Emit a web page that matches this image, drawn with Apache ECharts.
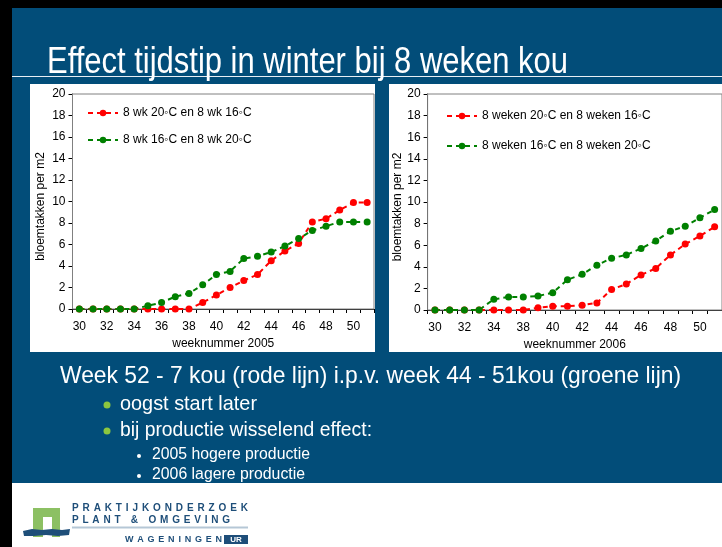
<!DOCTYPE html>
<html><head><meta charset="utf-8">
<script src="https://cdn.jsdelivr.net/npm/echarts@6/dist/echarts.min.js"></script>
<style>html,body{margin:0;padding:0;background:#fff}#c{width:722px;height:547px}</style>
</head><body><div id="c"></div>
<script>
// ---- data ----
const weeks2005 = ['30','31','32','33','34','35','36','37','38','39','40','41','42','43','44','45','46','47','48','49','50','51'];
const red2005   = [0,0,0,0,0,0,0,0,0,0.6,1.3,2.0,2.65,3.2,4.5,5.4,6.1,8.1,8.4,9.2,9.9,9.9];
const green2005 = [0,0,0,0,0,0.3,0.6,1.15,1.45,2.25,3.2,3.5,4.7,4.9,5.3,5.85,6.55,7.3,7.7,8.1,8.1,8.1];
const weeks2006 = ['30','31','32','33','34','36','38','39','40','41','42','43','44','45','46','47','48','49','50','51'];
const red2006   = [0,0,0,0,0,0,0,0.2,0.35,0.35,0.45,0.65,1.9,2.4,3.25,3.85,5.1,6.1,6.85,7.7];
const green2006 = [0,0,0,0,1.0,1.2,1.2,1.3,1.6,2.8,3.3,4.15,4.8,5.1,5.7,6.4,7.3,7.75,8.55,9.3];
const names2005 = ['8 wk 20\u25E6C en 8 wk 16\u25E6C', '8 wk 16\u25E6C en 8 wk 20\u25E6C'];
const names2006 = ['8 weken 20\u25E6C en 8 weken 16\u25E6C', '8 weken 16\u25E6C en 8 weken 20\u25E6C'];
const yTicks = {min:0, max:20, interval:2};
const slideTitle = 'Effect tijdstip in winter bij 8 weken kou';
const mainLine = 'Week 52 - 7 kou (rode lijn) i.p.v. week 44 - 51kou (groene lijn)';
const bullets = ['oogst start later', 'bij productie wisselend effect:'];
const subBullets = ['2005 hogere productie', '2006 lagere productie'];

const RED = '#ff0000', GREEN = '#008000', BLUE = '#024d79';
const AX = "'Liberation Sans', Arial, sans-serif";

const mctx = document.createElement('canvas').getContext('2d');
function fitText(text, x, yMid, size, targetW, extra) {
  const font = size + 'px ' + AX;
  mctx.font = font;
  const w = mctx.measureText(text).width;
  return Object.assign({type:'text', z:10, x:x, y:yMid, scaleX: targetW / w, scaleY:1,
    style:{text:text, fill:'#fff', font:font, verticalAlign:'middle', align:'left'}}, extra||{});
}

function xAxis(gi, cats, name) {
  return {
    type:'category', gridIndex:gi, data:cats, boundaryGap:true,
    axisLine:{lineStyle:{color:'#000', width:1}},
    axisTick:{show:true, interval:0, length:4, lineStyle:{color:'#000'}},
    axisLabel:{interval:1, color:'#000', fontSize:12, fontFamily:AX, margin:12},
    name:name, nameLocation:'middle', nameGap:29,
    nameTextStyle:{color:'#000', fontSize:12, fontFamily:AX},
    splitLine:{show:false}
  };
}
function yAxis(gi, gap) {
  return {
    type:'value', gridIndex:gi, min:yTicks.min, max:yTicks.max, interval:yTicks.interval,
    axisLine:{show:true, lineStyle:{color:'#000', width:1}},
    axisTick:{show:true, length:4, lineStyle:{color:'#000'}},
    axisLabel:{color:'#000', fontSize:12, fontFamily:AX, margin:7},
    splitLine:{show:false},
    name:'bloemtakken per m2', nameLocation:'middle', nameGap:gap, nameRotate:90,
    nameTextStyle:{color:'#000', fontSize:12, fontFamily:AX, padding:[0,10,0,0]}
  };
}
function ser(name, data, color, gi) {
  return {
    type:'line', name:name, data:data, xAxisIndex:gi, yAxisIndex:gi,
    symbol:'circle', symbolSize:7, showSymbol:true,
    lineStyle:{color:color, width:2, type:[5,4]},
    itemStyle:{color:color}, z:5, animation:false
  };
}

// ---- decorative graphics ----
const g = [];
g.push({type:'rect', z:-10, shape:{x:0,y:0,width:722,height:547}, style:{fill:'#000'}});
g.push({type:'rect', z:-9, shape:{x:12,y:8,width:710,height:475}, style:{fill:BLUE}});
g.push({type:'rect', z:-9, shape:{x:12,y:483,width:710,height:64}, style:{fill:'#fff'}});
g.push({type:'rect', z:-8, shape:{x:30,y:84,width:345,height:268}, style:{fill:'#fff'}});
g.push({type:'rect', z:-8, shape:{x:389,y:84,width:333,height:268}, style:{fill:'#fff'}});
g.push({type:'line', z:-7, shape:{x1:12,y1:76.5,x2:722,y2:76.5}, style:{stroke:'#e8eef4', lineWidth:1}});
g.push(fitText(slideTitle, 47, 63, 37, 521));
g.push(fitText(mainLine, 60, 376, 24, 621));
const bulletW = [137, 252];
bullets.forEach((t,i)=>{
  const y = 404 + i*26;
  g.push({type:'circle', z:10, shape:{cx:107, cy:y+1, r:3.5}, style:{fill:'#8cc63f'}});
  g.push(fitText(t, 120, y, 21, bulletW[i]));
});
const subW = [158, 153];
subBullets.forEach((t,i)=>{
  const y = 455 + i*20;
  g.push({type:'circle', z:10, shape:{cx:139, cy:y+1, r:2}, style:{fill:'#fff'}});
  g.push(fitText(t, 152, y, 16, subW[i]));
});
// logo
g.push({type:'polygon', z:10, shape:{points:[[33,537],[33,508],[60,508],[60,537],[52,537],[52,517],[43,517],[43,537]]}, style:{fill:'#8cc063'}});
g.push({type:'polygon', z:11, shape:{points:[[23,531],[32,529],[42,530],[52,529],[62,530],[70,529],[69,535],[58,536],[46,535],[34,536],[24,536]]}, style:{fill:'#1e4e79'}});
function spaced(str, x0, x1, y, font) {
  mctx.font = font;
  const ws = Array.from(str).map(c => mctx.measureText(c).width);
  const total = ws.reduce((a,b)=>a+b,0);
  const gap = (x1 - x0 - total) / (str.length - 1);
  let x = x0;
  for (let i=0;i<str.length;i++) {
    if (str[i]!==' ') g.push({type:'text', z:10, x:x, y:y, style:{text:str[i], fill:'#1e4e79', font:font, verticalAlign:'bottom', align:'left'}});
    x += ws[i] + gap;
  }
}
spaced('PRAKTIJKONDERZOEK', 72, 248, 513, 'bold 10px '+AX);
spaced('PLANT & OMGEVING', 72, 230, 525, 'bold 10px '+AX);
g.push({type:'line', z:10, shape:{x1:72,y1:527.5,x2:248,y2:527.5}, style:{stroke:'#b5c7d6', lineWidth:2}});
spaced('WAGENINGEN', 125, 222, 544, 'bold 9px '+AX);
g.push({type:'rect', z:10, shape:{x:224,y:535,width:24,height:9}, style:{fill:'#1e4e79'}});
g.push({type:'text', z:11, x:236, y:539.5, style:{text:'UR', fill:'#fff', font:'bold 8px '+AX, verticalAlign:'middle', align:'center'}});

const chart = echarts.init(document.getElementById('c'), null, {renderer:'canvas'});
chart.setOption({
  animation:false,
  backgroundColor:'#000',
  graphic:{elements:g},
  grid:[
    {left:72.5, top:94, width:301.5, height:215, show:true, borderColor:'#808080', borderWidth:1, backgroundColor:'transparent', z:1},
    {left:427.6, top:94, width:307.4, height:216, show:true, borderColor:'#808080', borderWidth:1, backgroundColor:'transparent', z:1}
  ],
  xAxis:[xAxis(0, weeks2005, 'weeknummer 2005'), xAxis(1, weeks2006, 'weeknummer 2006')],
  yAxis:[yAxis(0, 26), yAxis(1, 21)],
  legend:[
    {data:names2005, orient:'vertical', left:82, top:102, itemWidth:30, itemHeight:8, itemGap:15,
     textStyle:{color:'#000', fontSize:12, fontFamily:AX}},
    {data:names2006, orient:'vertical', left:441, top:105, itemWidth:30, itemHeight:8, itemGap:18,
     textStyle:{color:'#000', fontSize:12, fontFamily:AX}}
  ],
  series:[
    ser(names2005[0], red2005, RED, 0),
    ser(names2005[1], green2005, GREEN, 0),
    ser(names2006[0], red2006, RED, 1),
    ser(names2006[1], green2006, GREEN, 1)
  ]
});
</script></body></html>
